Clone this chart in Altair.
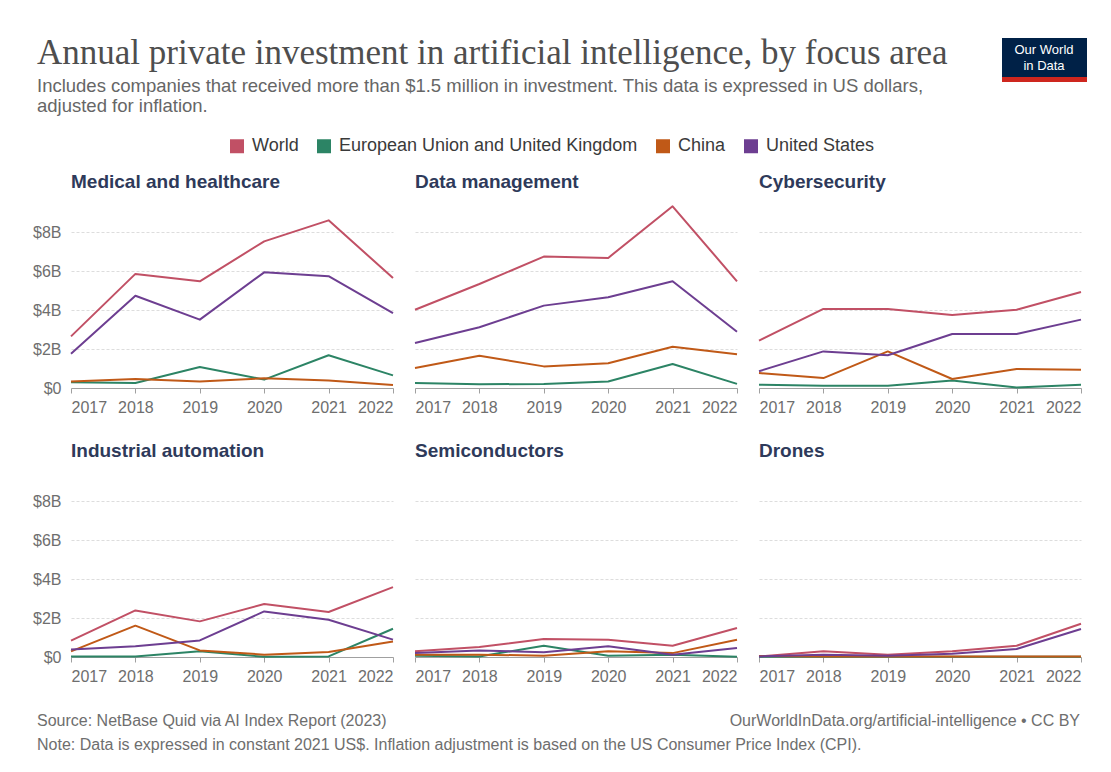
import altair as alt
import pandas as pd

years = [2017, 2018, 2019, 2020, 2021, 2022]
entities = ["World", "European Union and United Kingdom", "China", "United States"]
entity_colors = ["#C15065", "#2C8465", "#C05917", "#6D3E91"]
areas = ["Medical and healthcare", "Data management", "Cybersecurity",
         "Industrial automation", "Semiconductors", "Drones"]

# values in billions of US dollars
medical_world = [2.65, 5.86, 5.48, 7.53, 8.61, 5.65]
medical_eu = [0.29, 0.26, 1.08, 0.43, 1.68, 0.65]
medical_china = [0.34, 0.46, 0.33, 0.50, 0.39, 0.15]
medical_us = [1.76, 4.74, 3.51, 5.94, 5.74, 3.85]

datamgmt_world = [4.02, 5.34, 6.75, 6.68, 9.33, 5.48]
datamgmt_eu = [0.26, 0.19, 0.21, 0.33, 1.23, 0.21]
datamgmt_china = [1.03, 1.66, 1.11, 1.27, 2.12, 1.73]
datamgmt_us = [2.31, 3.12, 4.23, 4.66, 5.48, 2.89]

cyber_world = [2.43, 4.06, 4.06, 3.75, 4.02, 4.93]
cyber_eu = [0.17, 0.12, 0.12, 0.39, 0.02, 0.17]
cyber_china = [0.77, 0.51, 1.88, 0.46, 0.98, 0.94]
cyber_us = [0.86, 1.88, 1.68, 2.77, 2.77, 3.51]

industrial_world = [0.84, 2.39, 1.83, 2.72, 2.31, 3.59]
industrial_eu = [0.03, 0.03, 0.29, 0.01, 0.03, 1.45]
industrial_china = [0.29, 1.61, 0.34, 0.12, 0.26, 0.80]
industrial_us = [0.38, 0.55, 0.85, 2.34, 1.91, 0.89]

semi_world = [0.29, 0.51, 0.92, 0.89, 0.58, 1.49]
semi_eu = [0.07, 0.03, 0.58, 0.07, 0.12, 0.01]
semi_china = [0.12, 0.12, 0.07, 0.29, 0.20, 0.89]
semi_us = [0.20, 0.34, 0.24, 0.55, 0.12, 0.46]

drones_world = [0.03, 0.29, 0.12, 0.29, 0.58, 1.71]
drones_eu = [0.01, 0.01, 0.01, 0.01, 0.01, 0.01]
drones_china = [0.05, 0.02, 0.02, 0.02, 0.02, 0.02]
drones_us = [0.03, 0.12, 0.07, 0.17, 0.41, 1.44]

y_ticks = [0, 2, 4, 6, 8]

title_text = "Annual private investment in artificial intelligence, by focus area"
subtitle_lines = ["Includes companies that received more than $1.5 million in investment. This data is expressed in US dollars,",
                  "adjusted for inflation."]
logo_lines = ["Our World", "in Data"]
source_text = "Source: NetBase Quid via AI Index Report (2023)"
url_text = "OurWorldInData.org/artificial-intelligence \u2022 CC BY"
note_text = "Note: Data is expressed in constant 2021 US$. Inflation adjustment is based on the US Consumer Price Index (CPI)."

series = {
    "Medical and healthcare": [medical_world, medical_eu, medical_china, medical_us],
    "Data management": [datamgmt_world, datamgmt_eu, datamgmt_china, datamgmt_us],
    "Cybersecurity": [cyber_world, cyber_eu, cyber_china, cyber_us],
    "Industrial automation": [industrial_world, industrial_eu, industrial_china, industrial_us],
    "Semiconductors": [semi_world, semi_eu, semi_china, semi_us],
    "Drones": [drones_world, drones_eu, drones_china, drones_us],
}

rows = []
for area in areas:
    for ent, vals in zip(entities, series[area]):
        for yr, v in zip(years, vals):
            rows.append({"area": area, "entity": ent, "year": yr, "value": v})
df = pd.DataFrame(rows)

FONT = "Liberation Sans"

legend = alt.Legend(
    orient="none", legendX=157, legendY=117, direction="horizontal", title=None,
    symbolType="square", symbolSize=49, symbolStrokeWidth=7,
    labelFont=FONT, labelFontSize=18, labelColor="#3a3a3a", labelLimit=600,
    columnPadding=7, labelOffset=6,
)


def panel(area, first):
    yaxis = alt.Axis(values=y_ticks,
                     labelExpr="datum.value == 0 ? '$0' : '$' + datum.value + 'B'",
                     labels=first, ticks=False, domain=False, grid=True, title=None,
                     labelPadding=10)
    xaxis = alt.Axis(values=years, format="d", labelFlush=True, grid=False,
                     tickSize=5, title=None, labelPadding=6)
    return alt.Chart(df).transform_filter(alt.datum.area == area).mark_line(
        strokeWidth=2, strokeJoin="round"
    ).encode(
        x=alt.X("year:Q", scale=alt.Scale(domain=[2017, 2022], nice=False, zero=False), axis=xaxis),
        y=alt.Y("value:Q", scale=alt.Scale(domain=[0, 9.5], nice=False), axis=yaxis),
        color=alt.Color("entity:N", scale=alt.Scale(domain=entities, range=entity_colors), legend=legend),
    ).properties(
        width=322, height=185,
        title=alt.TitleParams(area, anchor="start", frame="group", fontSize=19, fontWeight="bold",
                              color="#2e3a5a", font=FONT, offset=11),
    )


row1 = alt.hconcat(*[panel(a, i == 0) for i, a in enumerate(areas[:3])], spacing=20)
row2 = alt.hconcat(*[panel(a, i == 0) for i, a in enumerate(areas[3:])], spacing=20)
grid = alt.vconcat(row1, row2, spacing=27)

one = pd.DataFrame({"k": [0]})
hbase = alt.Chart(one)
header = alt.layer(
    hbase.mark_text(text=title_text, font="Liberation Serif", fontSize=35, color="#4e4e4e",
                    align="left", baseline="alphabetic").encode(x=alt.value(-34), y=alt.value(44)),
    hbase.mark_text(text=subtitle_lines, font=FONT, fontSize=18.5, color="#666666",
                    align="left", baseline="alphabetic", lineHeight=19.5).encode(x=alt.value(-34), y=alt.value(72)),
    hbase.mark_rect(color="#002147").encode(x=alt.value(931), x2=alt.value(1016), y=alt.value(18), y2=alt.value(57)),
    hbase.mark_rect(color="#CE261E").encode(x=alt.value(931), x2=alt.value(1016), y=alt.value(57), y2=alt.value(62)),
    hbase.mark_text(text=logo_lines, font=FONT, fontSize=13, color="white", align="center",
                    baseline="middle", lineHeight=16).encode(x=alt.value(973), y=alt.value(30)),
).properties(width=1016, height=153)

footer = alt.layer(
    hbase.mark_text(text=source_text, font=FONT, fontSize=16, color="#6e6e6e",
                    align="left", baseline="alphabetic").encode(x=alt.value(-34), y=alt.value(42)),
    hbase.mark_text(text=url_text, font=FONT, fontSize=16, color="#6e6e6e",
                    align="right", baseline="alphabetic").encode(x=alt.value(1009), y=alt.value(42)),
    hbase.mark_text(text=note_text, font=FONT, fontSize=16, color="#6e6e6e",
                    align="left", baseline="alphabetic").encode(x=alt.value(-34), y=alt.value(66)),
).properties(width=1016, height=70)

chart = alt.vconcat(header, grid, footer, spacing=0).properties(
    padding={"left": 24, "top": 12, "right": 5, "bottom": 0},
    background="white",
).configure_view(stroke=None).configure_axis(
    labelFont=FONT, labelFontSize=16, labelColor="#6e6e6e",
    gridColor="#dddddd", gridDash=[3, 2], domainColor="#a0a0a0", tickColor="#a0a0a0",
)

chart.save("out.html", embed_options={"renderer": "svg", "actions": False})
